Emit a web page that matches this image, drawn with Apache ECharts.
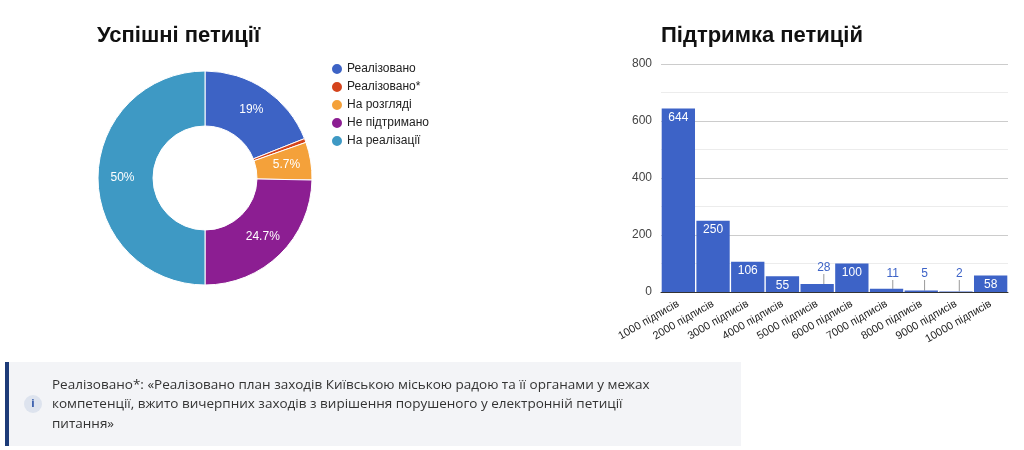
<!DOCTYPE html>
<html><head><meta charset="utf-8">
<script src="https://cdn.jsdelivr.net/npm/echarts@6/dist/echarts.min.js"></script>
<style>html,body{margin:0;padding:0;background:#fff;}#c{width:1024px;height:450px;}</style>
</head><body><div id="c"></div>
<script>
const pieNames = ['Реалізовано','Реалізовано*','На розгляді','Не підтримано','На реалізації'];
const pieValues = [19, 0.6, 5.7, 24.7, 50];
const pieColors = ['#3d63c5','#d4441c','#f4a13a','#8c1e92','#3e99c4'];
const barCats = ['1000 підписів','2000 підписів','3000 підписів','4000 підписів','5000 підписів','6000 підписів','7000 підписів','8000 підписів','9000 підписів','10000 підписів'];
const barValues = [644, 250, 106, 55, 28, 100, 11, 5, 2, 58];
const yTicks = [0, 200, 400, 600, 800];
const noteText = 'Реалізовано*: «Реалізовано план заходів Київською міською радою та її органами у межах\nкомпетенції, вжито вичерпних заходів з вирішення порушеного у електронній петиції\nпитання»';

const SMALL = 40;
const chart = echarts.init(document.getElementById('c'));
chart.setOption({
  animation: false,
  textStyle: {fontFamily: 'Liberation Sans, Arial, sans-serif'},
  title: [
    {text: 'Успішні петиції', left: 92, top: 20, textStyle: {fontSize: 22, fontWeight: 'bold', color: '#111'}},
    {text: 'Підтримка петицій', left: 656, top: 20, textStyle: {fontSize: 22, fontWeight: 'bold', color: '#111'}}
  ],
  legend: {
    orient: 'vertical', left: 325, top: 57, itemGap: 4, itemWidth: 12, itemHeight: 12,
    icon: 'circle', data: pieNames,
    textStyle: {fontSize: 12, color: '#222', padding: [0,0,0,-1]}
  },
  grid: {left: 661, right: 16, top: 64, bottom: 158},
  xAxis: {
    type: 'category', data: barCats,
    axisLine: {lineStyle: {color: '#333'}}, axisTick: {show: false},
    axisLabel: {rotate: 30, interval: 0, fontSize: 11, color: '#222', margin: 11}
  },
  yAxis: {
    type: 'value', min: yTicks[0], max: yTicks[yTicks.length-1], interval: 200,
    axisLine: {show: false}, axisTick: {show: false},
    axisLabel: {fontSize: 12, color: '#444', margin: 9},
    splitLine: {lineStyle: {color: '#cccccc'}},
    minorTick: {show: false, splitNumber: 2},
    minorSplitLine: {show: true, lineStyle: {color: '#ececec'}}
  },
  series: [
    {
      type: 'pie', radius: [52, 107], center: [205, 178], startAngle: 90,
      itemStyle: {borderColor: '#fff', borderWidth: 1},
      label: {position: 'inside', color: '#fff', fontSize: 12, formatter: '{c}%'},
      labelLine: {show: false},
      data: pieNames.map((n, i) => ({
        name: n, value: pieValues[i], itemStyle: {color: pieColors[i]},
        label: {show: pieValues[i] >= 2}
      }))
    },
    {
      type: 'bar', barCategoryGap: '4%',
      itemStyle: {color: '#3d63c7'},
      data: barValues.map(v => v < SMALL ? {
        value: v,
        label: {show: true, position: 'top', distance: 0, color: '#3d63c7', fontSize: 12},
        labelLine: {show: true, lineStyle: {color: '#999', width: 1}}
      } : {
        value: v,
        label: {show: true, position: 'insideTop', distance: 3, color: '#fff', fontSize: 12}
      }),
      labelLayout: function (p) {
        const v = barValues[p.dataIndex];
        if (v < SMALL) {
          return {y: v === 28 ? 268 : 274, verticalAlign: 'middle'};
        }
        return {};
      }
    }
  ],
  graphic: [
    {type: 'rect', shape: {x: 5, y: 362, width: 736, height: 84}, style: {fill: '#f3f4f7'}},
    {type: 'rect', shape: {x: 5, y: 362, width: 4, height: 84}, style: {fill: '#1d3b78'}},
    {type: 'circle', shape: {cx: 33, cy: 404, r: 9}, style: {fill: '#dde3ee'}},
    {type: 'text', x: 33, y: 404, style: {text: 'i', fill: '#2d55a8', font: 'bold 11px "Open Sans", sans-serif', align: 'center', verticalAlign: 'middle'}},
    {type: 'text', left: 52, top: 375, style: {text: noteText, fill: '#333', font: '13.5px "Open Sans", sans-serif', lineHeight: 19.5}}
  ]
});
</script></body></html>
